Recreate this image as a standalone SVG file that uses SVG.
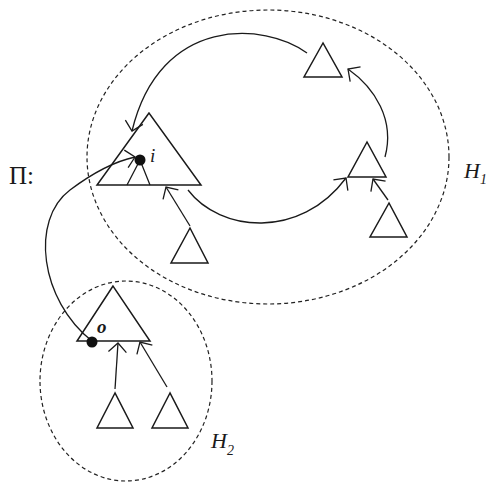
<svg xmlns="http://www.w3.org/2000/svg" width="486" height="482" viewBox="0 0 486 482">
<style>
.tri{fill:none;stroke:#1a1a1a;stroke-width:1.5;stroke-linejoin:miter}
.ln{fill:none;stroke:#1a1a1a;stroke-width:1.3}
.hull{fill:none;stroke:#222;stroke-width:1.2;stroke-dasharray:4 3}
.t{font-family:"Liberation Serif","Times New Roman",serif;fill:#1a1a1a}
.it{font-style:italic}
</style>
<defs>
<marker id="ah" markerUnits="userSpaceOnUse" markerWidth="24" markerHeight="24" refX="12" refY="12" orient="auto" viewBox="0 0 24 24">
<path d="M3,3 L12,12 L3,21" fill="none" stroke="#1a1a1a" stroke-width="1.3"/>
</marker>
</defs>
<g id="hulls">
<ellipse id="H1-hull" class="hull" cx="268" cy="157" rx="181" ry="147"/>
<ellipse id="H2-hull" class="hull" cx="126" cy="381" rx="86" ry="100"/>
</g>
<g id="connectors">
<path class="ln" d="M307,53 C265,22 160,15 132,131" marker-end="url(#ah)"/>
<path class="ln" d="M385,157 C395,120 375,88 348,69" marker-end="url(#ah)"/>
<path class="ln" d="M188,190 C220,232 300,240 346,178" marker-end="url(#ah)"/>
<path class="ln" d="M190,226 L166,187" marker-end="url(#ah)"/>
<path class="ln" d="M388,200 L373,179" stroke-width="2" marker-end="url(#ah)"/>
<path class="ln" d="M92,341 C40,300 30,220 70,190 C90,175 112,162 135,157" marker-end="url(#ah)"/>
<path class="ln" d="M115,389 L118,343" stroke-width="1.8" marker-end="url(#ah)"/>
<path class="ln" d="M167,387 L140,342" marker-end="url(#ah)"/>
</g>
<g id="node-main">
<polygon class="tri" points="149,113 97,185 201,185"/>
<path class="ln" d="M127,185 L140,160 L150,185"/>
<circle cx="140" cy="160" r="5.5" fill="#111"/>
<text class="t it" x="150" y="162" font-size="19">i</text>
</g>
<g id="node-top"><polygon class="tri" points="323,43 304,77 342,77"/></g>
<g id="node-right"><polygon class="tri" points="367,142 348,177 386,177"/></g>
<g id="node-right-leaf"><polygon class="tri" points="389,203 370,237 407,237"/></g>
<g id="node-main-leaf"><polygon class="tri" points="190,228 171,263 208,263"/></g>
<g id="node-o">
<polygon class="tri" points="113,286 77,341 150,341"/>
<circle cx="92" cy="342" r="5.5" fill="#111"/>
<text class="t it" x="97" y="333" font-size="19" font-weight="bold">o</text>
</g>
<g id="node-o-leaf1"><polygon class="tri" points="115,393 97,428 133,428"/></g>
<g id="node-o-leaf2"><polygon class="tri" points="170,393 152,428 188,428"/></g>
<g id="labels">
<text class="t" x="9" y="184" font-size="25">Π:</text>
<text class="t it" x="464" y="178" font-size="22">H<tspan font-size="14" dy="6">1</tspan></text>
<text class="t it" x="211" y="448" font-size="22">H<tspan font-size="14" dy="7">2</tspan></text>
</g>
</svg>
